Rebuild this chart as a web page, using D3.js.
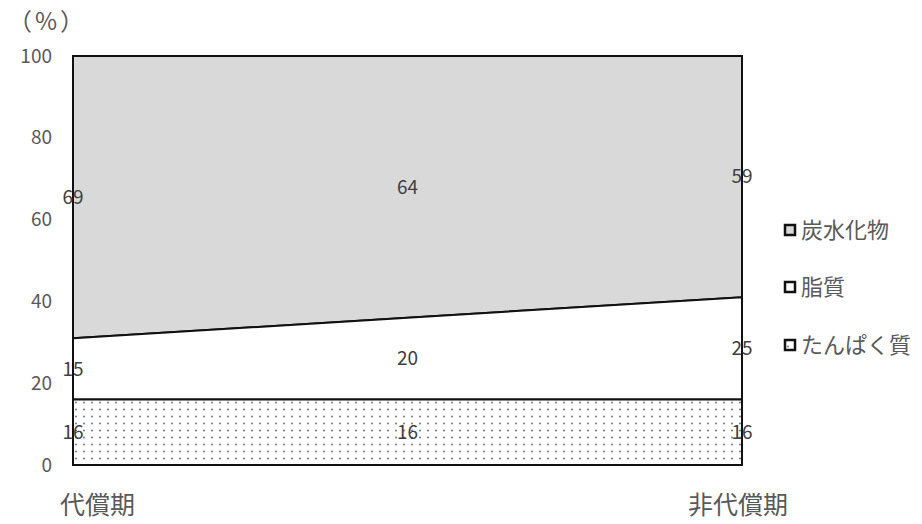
<!DOCTYPE html>
<html><head><meta charset="utf-8">
<script src="https://cdn.jsdelivr.net/npm/d3@7"></script>
<style>body{margin:0;background:#fff;} text{font-family:"Noto Sans CJK JP","Noto Sans",sans-serif;}</style>
</head><body>
<svg id="c" width="922" height="524"></svg>
<script>
const categories = ["代償期", "", "非代償期"];
const seriesNames = ["たんぱく質", "脂質", "炭水化物"];
const protein = [16, 16, 16];
const fat = [15, 20, 25];
const carbs = [69, 64, 59];
const yTicks = [0, 20, 40, 60, 80, 100];

const svg = d3.select("#c");
const x = d3.scalePoint().domain(d3.range(categories.length)).range([73, 742]);
const y = d3.scaleLinear().domain([0, 100]).range([465, 56]);

const defs = svg.append("defs");
const pat = defs.append("pattern").attr("id", "dots").attr("patternUnits", "userSpaceOnUse")
  .attr("width", 8).attr("height", 7);
pat.append("rect").attr("width", 8).attr("height", 7).attr("fill", "#fff");
pat.append("circle").attr("cx", 4).attr("cy", 3.5).attr("r", 0.9).attr("fill", "#666");

const rows = categories.map((c, i) => ({i, p: protein[i], f: fat[i], c: carbs[i]}));
const stack = d3.stack().keys(["p", "f", "c"])(rows);
const fills = ["url(#dots)", "#ffffff", "#d9d9d9"];

const area = d3.area().x(d => x(d.data.i)).y0(d => y(d[0])).y1(d => y(d[1]));
[2, 1, 0].forEach(k => {
  svg.append("path").datum(stack[k]).attr("d", area)
    .attr("fill", fills[k]).attr("stroke", "#111").attr("stroke-width", 2).attr("stroke-linejoin", "miter");
});

// y axis labels
svg.append("g").selectAll("text").data(yTicks).join("text")
  .attr("x", 52).attr("y", d => y(d)).attr("dy", "0.35em").attr("text-anchor", "end")
  .attr("font-size", 19).attr("fill", "#595959").text(d => d);
svg.append("text").attr("x", 8).attr("y", 30).attr("font-size", 24).attr("letter-spacing", 3)
  .attr("fill", "#595959").text("（%）");

// data labels
stack.forEach((s, k) => {
  svg.append("g").selectAll("text").data(s).join("text")
    .attr("x", d => x(d.data.i)).attr("y", d => y((d[0] + d[1]) / 2)).attr("dy", "0.35em")
    .attr("text-anchor", "middle").attr("font-size", 19).attr("fill", "#404040")
    .text(d => d[1] - d[0]);
});

// x labels
svg.append("g").selectAll("text").data(categories).join("text")
  .attr("x", (d, i) => i === 0 ? 60 : (i === categories.length - 1 ? 788 : x(i)))
  .attr("y", 514)
  .attr("text-anchor", (d, i) => i === 0 ? "start" : (i === categories.length - 1 ? "end" : "middle"))
  .attr("font-size", 25).attr("fill", "#595959").text(d => d);

// legend
const legend = [
  {name: seriesNames[2], fill: "#d9d9d9", y: 230},
  {name: seriesNames[1], fill: "#ffffff", y: 287},
  {name: seriesNames[0], fill: "url(#dots)", y: 345}
];
const lg = svg.append("g").selectAll("g").data(legend).join("g");
lg.append("rect").attr("x", 785).attr("y", d => d.y - 5).attr("width", 10).attr("height", 10)
  .attr("fill", d => d.fill).attr("stroke", "#111").attr("stroke-width", 2.5);
lg.append("text").attr("x", 801).attr("y", d => d.y).attr("dy", "0.35em")
  .attr("font-size", 22).attr("fill", "#595959").text(d => d.name);
</script>
</body></html>
